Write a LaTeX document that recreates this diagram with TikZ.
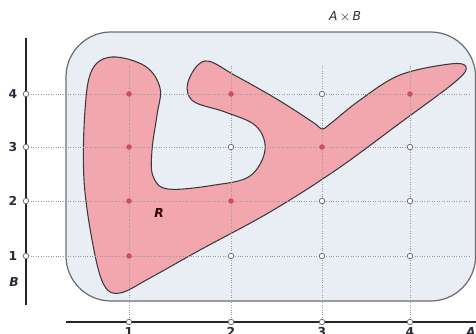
\documentclass[tikz,border=0pt]{standalone}
\usepackage{fontspec}
\setmainfont{DejaVu Sans}
\definecolor{boxfill}{HTML}{E9EEF5}
\definecolor{boxline}{HTML}{6E6E6E}
\definecolor{regionfill}{HTML}{F2A7AE}
\definecolor{regionline}{HTML}{3A3A3A}
\definecolor{dotred}{HTML}{CF4F59}
\definecolor{labeldark}{HTML}{2A2A3A}
\begin{document}
\begin{tikzpicture}[x=0.02cm,y=-0.02cm,
    reddot/.style={circle,fill=dotred,inner sep=0pt,minimum size=0.11cm},
    opendot/.style={circle,draw=gray!90!black,fill=white,inner sep=0pt,minimum size=0.11cm,line width=0.45pt},
    gridline/.style={densely dotted,gray!80,line width=0.4pt},
    axisline/.style={line width=0.8pt,black!85},
    ticklabel/.style={font=\fontsize{7}{8}\selectfont\bfseries,text=labeldark,inner sep=0pt},
    setlabel/.style={font=\fontsize{7}{8}\selectfont\itshape,text=labeldark,inner sep=0pt}]
    \useasboundingbox (0,0) rectangle (476,334);

    % the set A x B
    \draw[fill=boxfill,draw=boxline,line width=0.7pt,rounded corners=0.9cm] (66,32) rectangle (475.6,301);
    \node[setlabel] (ProdLabel) at (345,17) {A\,$\times$\,B};

    % the relation R
    \draw[fill=regionfill,draw=regionline,line width=0.6pt] plot[smooth cycle,tension=0.6] coordinates {
        (112,57) (145,66) (160,88) (157,115) (152,150) (153,176) (168,189) (215,185)
        (250,176) (265,150) (256,126) (225,112) (193,101) (188,82) (205,61) (236,76)
        (280,101) (314,123) (322,129) (330,124) (360,100) (400,75) (450,64) (466,67)
        (455,82) (400,123) (336,170) (270,212) (200,250) (150,278) (120,293) (104,285)
        (93,245) (84,180) (85,110) (92,70)};
    \node[font=\fontsize{7}{8}\selectfont\bfseries\itshape,text=black!70!red!60!black,inner sep=0pt] (RLabel) at (159,213) {R};

    % dotted grid
    \draw[gridline] (26,94) -- (470,94);
    \draw[gridline] (26,147) -- (470,147);
    \draw[gridline] (26,201) -- (470,201);
    \draw[gridline] (26,256) -- (470,256);
    \draw[gridline] (129,66) -- (129,322);
    \draw[gridline] (231,66) -- (231,322);
    \draw[gridline] (322,66) -- (322,322);
    \draw[gridline] (410,66) -- (410,322);

    % axes
    \draw[axisline] (26,38) -- (26,305);
    \draw[axisline] (66,322) -- (476,322);

    % pairs in R
    \node[reddot] (PairOneOne) at (129,256) {};
    \node[reddot] (PairOneTwo) at (129,201) {};
    \node[reddot] (PairOneThree) at (129,147) {};
    \node[reddot] (PairOneFour) at (129,94) {};
    \node[reddot] (PairTwoTwo) at (231,201) {};
    \node[reddot] (PairTwoFour) at (231,94) {};
    \node[reddot] (PairThreeThree) at (322,147) {};
    \node[reddot] (PairFourFour) at (410,94) {};

    % pairs not in R
    \node[opendot] (PairTwoOne) at (231,256) {};
    \node[opendot] (PairThreeOne) at (322,256) {};
    \node[opendot] (PairFourOne) at (410,256) {};
    \node[opendot] (PairTwoThree) at (231,147) {};
    \node[opendot] (PairThreeTwo) at (322,201) {};
    \node[opendot] (PairFourTwo) at (410,201) {};
    \node[opendot] (PairFourThree) at (410,147) {};
    \node[opendot] (PairThreeFour) at (322,94) {};

    % marks on the axes
    \node[opendot] (BOne) at (26,256) {};
    \node[opendot] (BTwo) at (26,201) {};
    \node[opendot] (BThree) at (26,147) {};
    \node[opendot] (BFour) at (26,94) {};
    \node[opendot] (AOne) at (129,322) {};
    \node[opendot] (ATwo) at (231,322) {};
    \node[opendot] (AThree) at (322,322) {};
    \node[opendot] (AFour) at (410,322) {};

    % labels
    \node[ticklabel] (BOneLabel) at (13,256) {1};
    \node[ticklabel] (BTwoLabel) at (13,201) {2};
    \node[ticklabel] (BThreeLabel) at (13,147) {3};
    \node[ticklabel] (BFourLabel) at (13,94) {4};
    \node[ticklabel,anchor=north] (AOneLabel) at (129,327) {1};
    \node[ticklabel,anchor=north] (ATwoLabel) at (231,327) {2};
    \node[ticklabel,anchor=north] (AThreeLabel) at (322,327) {3};
    \node[ticklabel,anchor=north] (AFourLabel) at (410,327) {4};
    \node[setlabel,font=\fontsize{7}{8}\selectfont\bfseries\itshape] (BLabel) at (14,282) {B};
    \node[setlabel,font=\fontsize{7}{8}\selectfont\bfseries\itshape,anchor=north] (ALabel) at (471,327) {A};
\end{tikzpicture}
\end{document}
